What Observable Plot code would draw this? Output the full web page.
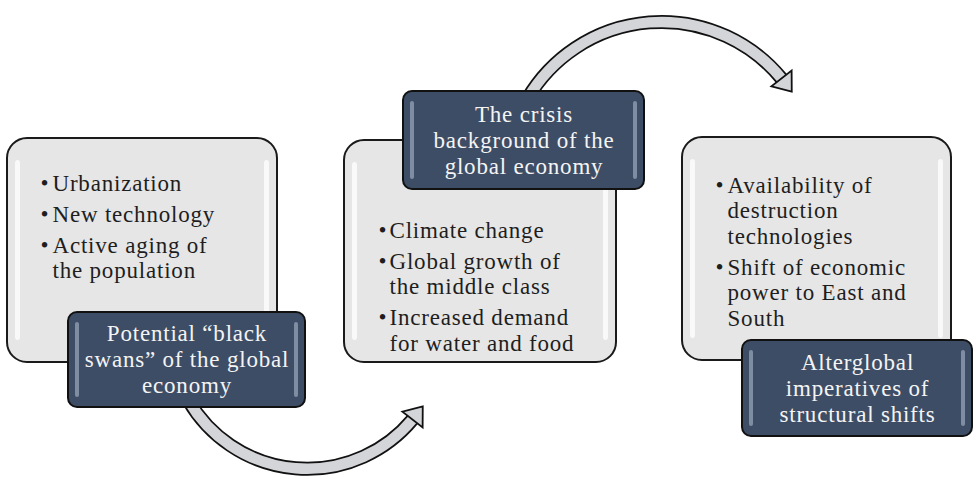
<!DOCTYPE html>
<html>
<head>
<meta charset="utf-8">
<script src="https://cdn.jsdelivr.net/npm/d3@7"></script>
<script src="https://cdn.jsdelivr.net/npm/@observablehq/plot@0.6"></script>
<style>
  html, body { margin: 0; padding: 0; background: #ffffff; }
  #chart { width: 977px; height: 478px; }
</style>
</head>
<body>
<div id="chart"></div>
<script>
// ---- Content ----
const headings = [
  ["Potential \u201cblack", "swans\u201d of the global", "economy"],
  ["The crisis", "background of the", "global economy"],
  ["Alterglobal", "imperatives of", "structural shifts"]
];
const bulletItems = [
  [["Urbanization"], ["New technology"], ["Active aging of", "the population"]],
  [["Climate change"], ["Global growth of", "the middle class"], ["Increased demand", "for water and food"]],
  [["Availability of", "destruction", "technologies"], ["Shift of economic", "power to East and", "South"]]
];

// ---- Layout (diagram positions, pixel units) ----
const lightX1 = [7, 344, 682];
const lightX2 = [277, 616, 951];
const lightY1 = [138, 140, 137];
const lightY2 = [362, 362, 360];

const darkX1 = [68, 403, 742];
const darkX2 = [305, 644, 972];
const darkY1 = [312, 91, 340];
const darkY2 = [407, 189, 436];

const bulletX = [40, 378, 715];
const textX = [52, 389, 727];
const firstLineY = [183, 230, 185];

const arrowX1 = [188, 527];
const arrowY1 = [400, 98];
const arrowX2 = [412, 781];
const arrowY2 = [419, 78];
const arrowBend = [-55, 55];
const headX = [416.4, 785.4];
const headY = [413.4, 83.6];
const headRotate = [38, 142];

// ---- Build tables ----
const lightBoxes = lightX1.map((x1, i) => ({x1, x2: lightX2[i], y1: lightY1[i], y2: lightY2[i]}));
const darkBoxes = darkX1.map((x1, i) => ({x1, x2: darkX2[i], y1: darkY1[i], y2: darkY2[i]}));
const arrows = arrowX1.map((x1, i) => ({x1, y1: arrowY1[i], x2: arrowX2[i], y2: arrowY2[i], bend: arrowBend[i]}));
const heads = headX.map((x, i) => ({x, y: headY[i], rotate: headRotate[i]}));

const lineStep = 25.5, paraGap = 5.5;
const bodyLines = [];
const bulletDots = [];
bulletItems.forEach((items, b) => {
  let y = firstLineY[b];
  items.forEach(item => {
    bulletDots.push({x: bulletX[b], y});
    item.forEach(line => {
      bodyLines.push({x: textX[b], y, text: line});
      y += lineStep;
    });
    y += paraGap;
  });
});

const headStep = 26;
const headLines = [];
headings.forEach((lines, b) => {
  const cx = (darkX1[b] + darkX2[b]) / 2;
  const cy = (darkY1[b] + darkY2[b]) / 2;
  lines.forEach((line, i) => {
    headLines.push({x: cx, y: cy + (i - (lines.length - 1) / 2) * headStep, text: line});
  });
});

// highlight strips (bevel look)
const lightStrips = [];
lightBoxes.forEach(d => {
  lightStrips.push({x1: d.x1 + 8, x2: d.x1 + 13, y1: d.y1 + 22, y2: d.y2 - 22});
  lightStrips.push({x1: d.x2 - 13, x2: d.x2 - 8, y1: d.y1 + 22, y2: d.y2 - 22});
});
const darkStrips = [];
darkBoxes.forEach(d => {
  darkStrips.push({x1: d.x1 + 7, x2: d.x1 + 11, y1: d.y1 + 10, y2: d.y2 - 10});
  darkStrips.push({x1: d.x2 - 11, x2: d.x2 - 7, y1: d.y1 + 10, y2: d.y2 - 10});
});

// flat arrowhead symbol: tip up, wide short base
const arrowHead = {
  draw(context, size) {
    const k = Math.sqrt(size / Math.PI);
    context.moveTo(0, -k);
    context.lineTo(1.35 * k, 0.75 * k);
    context.lineTo(-1.35 * k, 0.75 * k);
    context.closePath();
  }
};

const font = "Liberation Serif, Times New Roman, serif";
const fs = 23;

const arrowMarks = arrows.flatMap(a => [
  Plot.arrow([a], {x1: "x1", y1: "y1", x2: "x2", y2: "y2", bend: a.bend, headLength: 0, stroke: "#111111", strokeWidth: 14, strokeLinecap: "butt"}),
  Plot.arrow([a], {x1: "x1", y1: "y1", x2: "x2", y2: "y2", bend: a.bend, headLength: 0, stroke: "#d3d5d9", strokeWidth: 10.5, strokeLinecap: "butt"})
]);

const chart = Plot.plot({
  width: 977,
  height: 478,
  margin: 0,
  style: {background: "#ffffff", fontFamily: font, letterSpacing: "0.8px"},
  x: {domain: [0, 977], range: [0, 977], axis: null},
  y: {domain: [0, 478], range: [0, 478], axis: null},
  marks: [
    // light boxes
    Plot.rect(lightBoxes, {x1: "x1", x2: "x2", y1: "y1", y2: "y2", rx: 20, fill: "#e6e6e6", stroke: "#1a1a1a", strokeWidth: 2}),
    Plot.rect(lightStrips, {x1: "x1", x2: "x2", y1: "y1", y2: "y2", rx: 3, fill: "#ffffff", fillOpacity: 0.75}),
    // arrows (outline + fill)
    ...arrowMarks,
    Plot.dot(heads, {x: "x", y: "y", rotate: "rotate", symbol: arrowHead, r: 9.5, fill: "#d3d5d9", stroke: "#111111", strokeWidth: 1.8, strokeLinejoin: "miter"}),
    // body text
    Plot.text(bulletDots, {x: "x", y: "y", text: () => "\u2022", textAnchor: "start", lineAnchor: "middle", fontSize: fs, fontFamily: font, fill: "#1e1e1e"}),
    Plot.text(bodyLines, {x: "x", y: "y", text: "text", textAnchor: "start", lineAnchor: "middle", fontSize: fs, fontFamily: font, fill: "#1e1e1e"}),
    // dark heading boxes
    Plot.rect(darkBoxes, {x1: "x1", x2: "x2", y1: "y1", y2: "y2", rx: 9, fill: "#3e4d66", stroke: "#111111", strokeWidth: 2}),
    Plot.rect(darkStrips, {x1: "x1", x2: "x2", y1: "y1", y2: "y2", rx: 2, fill: "#9aa8bc", fillOpacity: 0.7}),
    Plot.text(headLines, {x: "x", y: "y", text: "text", textAnchor: "middle", lineAnchor: "middle", fontSize: fs, fontFamily: font, fill: "#f4f4f4"})
  ]
});

document.getElementById("chart").appendChild(chart);
</script>
</body>
</html>
